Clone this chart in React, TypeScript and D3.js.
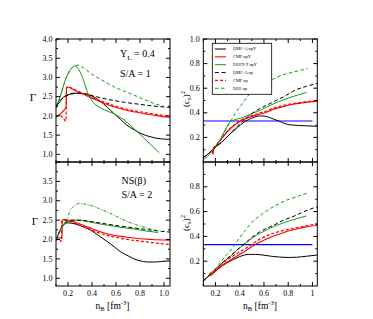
import * as d3 from 'd3';

type Pt = [number, number];

// Gamma, Y_L = 0.4, S/A = 1
const tlQmcNpY: Pt[] = [[0.1,2.22],[0.13,2.36],[0.167,2.5],[0.2,2.55],[0.25,2.59],[0.3,2.59],[0.35,2.57],[0.41,2.5],[0.47,2.38],[0.53,2.22],[0.58,2.07],[0.64,1.9],[0.69,1.76],[0.75,1.64],[0.81,1.54],[0.87,1.47],[0.92,1.43],[0.98,1.4],[1.05,1.39]];
const tlQmcNp: Pt[] = [[0.1,2.25],[0.15,2.45],[0.2,2.54],[0.25,2.58],[0.3,2.59],[0.35,2.57],[0.41,2.52],[0.5,2.45],[0.6,2.39],[0.7,2.34],[0.8,2.3],[0.9,2.26],[1.05,2.22]];
const tlCmfNpY: Pt[] = [[0.1,1.97],[0.13,2.04],[0.167,2.15],[0.185,2.24],[0.188,2.72],[0.2,2.75],[0.25,2.67],[0.3,2.6],[0.36,2.52],[0.43,2.42],[0.5,2.33],[0.58,2.24],[0.67,2.16],[0.76,2.1],[0.85,2.05],[0.95,2.0],[1.05,1.96]];
const tlCmfNp: Pt[] = [[0.1,1.97],[0.13,2.02],[0.155,1.96],[0.183,1.86],[0.187,2.72],[0.2,2.76],[0.25,2.69],[0.3,2.62],[0.36,2.54],[0.43,2.44],[0.5,2.36],[0.58,2.27],[0.67,2.19],[0.76,2.13],[0.85,2.08],[0.95,2.03],[1.05,1.99]];
const tlDd2yNpY: Pt[] = [[0.1,2.2],[0.14,2.55],[0.18,2.95],[0.22,3.2],[0.257,3.3],[0.29,3.2],[0.33,2.92],[0.36,2.63],[0.405,2.37],[0.475,2.2],[0.53,2.12],[0.587,2.05],[0.63,1.97],[0.67,1.89],[0.72,1.75],[0.78,1.58],[0.84,1.4],[0.9,1.22],[0.96,1.04]];
const tlDd2Np: Pt[] = [[0.1,2.2],[0.14,2.55],[0.18,2.95],[0.22,3.2],[0.26,3.3],[0.285,3.32],[0.33,3.24],[0.41,3.06],[0.5,2.9],[0.58,2.76],[0.67,2.64],[0.75,2.54],[0.84,2.42],[0.92,2.32],[1.0,2.25]];

// (c_s)^2, Y_L = 0.4, S/A = 1
const trQmcNpY: Pt[] = [[0.1,0.035],[0.15,0.075],[0.196,0.117],[0.25,0.16],[0.32,0.227],[0.38,0.28],[0.43,0.32],[0.51,0.36],[0.57,0.375],[0.62,0.37],[0.676,0.35],[0.73,0.33],[0.78,0.31],[0.84,0.3],[0.93,0.295],[1.04,0.29]];
const trQmcNp: Pt[] = [[0.1,0.035],[0.15,0.075],[0.196,0.117],[0.25,0.16],[0.32,0.227],[0.38,0.29],[0.43,0.335],[0.47,0.37],[0.54,0.42],[0.62,0.46],[0.7,0.5],[0.78,0.54],[0.86,0.585],[0.95,0.615],[1.04,0.64]];
const trCmfNpY: Pt[] = [[0.18,0.06],[0.185,0.1],[0.21,0.14],[0.25,0.19],[0.3,0.25],[0.35,0.295],[0.4,0.33],[0.48,0.363],[0.55,0.385],[0.62,0.405],[0.68,0.43],[0.76,0.45],[0.84,0.47],[0.93,0.483],[1.04,0.495]];
const trCmfNp: Pt[] = [[0.175,0.07],[0.18,0.11],[0.21,0.14],[0.25,0.19],[0.3,0.25],[0.35,0.298],[0.4,0.335],[0.48,0.37],[0.55,0.395],[0.62,0.415],[0.68,0.44],[0.76,0.46],[0.84,0.475],[0.93,0.488],[1.04,0.5]];
const trDd2yNpY: Pt[] = [[0.1,0.02],[0.15,0.06],[0.196,0.12],[0.25,0.2],[0.29,0.28],[0.32,0.325],[0.35,0.34],[0.43,0.363],[0.5,0.395],[0.57,0.42],[0.65,0.46],[0.72,0.49],[0.8,0.52],[0.88,0.545],[0.95,0.565]];
const trDd2Np: Pt[] = [[0.2,0.12],[0.25,0.2],[0.29,0.27],[0.32,0.32],[0.36,0.39],[0.4,0.445],[0.44,0.5],[0.484,0.555],[0.55,0.6],[0.62,0.64],[0.68,0.675],[0.73,0.7],[0.84,0.73],[0.96,0.76]];

// Gamma, NS(beta), S/A = 2
const blQmcNpY: Pt[] = [[0.1,1.98],[0.13,2.2],[0.16,2.36],[0.2,2.43],[0.25,2.41],[0.3,2.36],[0.35,2.3],[0.41,2.2],[0.47,2.07],[0.53,1.94],[0.59,1.8],[0.64,1.68],[0.7,1.58],[0.75,1.5],[0.8,1.45],[0.86,1.42],[0.92,1.42],[0.97,1.43],[1.05,1.45]];
const blQmcNp: Pt[] = [[0.1,1.98],[0.13,2.22],[0.17,2.42],[0.22,2.5],[0.3,2.5],[0.4,2.46],[0.5,2.41],[0.6,2.36],[0.7,2.32],[0.8,2.28],[0.9,2.24],[1.05,2.19]];
const blCmfNpY: Pt[] = [[0.1,1.98],[0.13,2.05],[0.15,2.02],[0.152,2.5],[0.17,2.52],[0.22,2.48],[0.28,2.42],[0.33,2.36],[0.4,2.28],[0.47,2.2],[0.55,2.13],[0.64,2.08],[0.72,2.05],[0.8,2.02],[0.9,2.0],[1.05,1.98]];
const blCmfNp: Pt[] = [[0.1,1.98],[0.12,2.02],[0.145,1.95],[0.148,2.48],[0.17,2.5],[0.22,2.46],[0.28,2.39],[0.33,2.33],[0.4,2.24],[0.47,2.16],[0.55,2.09],[0.64,2.03],[0.72,1.99],[0.8,1.96],[0.9,1.92],[1.05,1.87]];
const blDd2yNpY: Pt[] = [[0.1,1.98],[0.13,2.2],[0.17,2.4],[0.22,2.49],[0.28,2.5],[0.35,2.47],[0.45,2.41],[0.55,2.36],[0.65,2.31],[0.75,2.27],[0.85,2.22],[0.95,2.18]];
const blDd2Np: Pt[] = [[0.1,1.98],[0.13,2.2],[0.167,2.42],[0.2,2.6],[0.22,2.76],[0.25,2.86],[0.28,2.92],[0.31,2.93],[0.36,2.9],[0.41,2.86],[0.48,2.77],[0.55,2.68],[0.62,2.57],[0.69,2.47],[0.76,2.39],[0.83,2.32],[0.89,2.27],[0.95,2.23]];

// (c_s)^2, NS(beta), S/A = 2
const brQmcNpY: Pt[] = [[0.1,0.04],[0.15,0.085],[0.21,0.128],[0.26,0.165],[0.32,0.2],[0.36,0.22],[0.4,0.237],[0.44,0.25],[0.48,0.255],[0.53,0.255],[0.59,0.25],[0.66,0.24],[0.73,0.233],[0.8,0.23],[0.87,0.232],[0.95,0.24],[1.04,0.25]];
const brQmcNp: Pt[] = [[0.1,0.04],[0.15,0.09],[0.21,0.14],[0.26,0.19],[0.32,0.24],[0.36,0.275],[0.4,0.31],[0.45,0.35],[0.51,0.4],[0.59,0.45],[0.68,0.49],[0.76,0.53],[0.84,0.56],[0.93,0.6],[1.04,0.64]];
const brCmfNpY: Pt[] = [[0.15,0.08],[0.18,0.1],[0.22,0.14],[0.26,0.17],[0.32,0.205],[0.39,0.25],[0.46,0.29],[0.52,0.33],[0.59,0.365],[0.66,0.395],[0.73,0.42],[0.8,0.443],[0.87,0.46],[0.95,0.477],[1.04,0.49]];
const brCmfNp: Pt[] = [[0.15,0.085],[0.18,0.11],[0.22,0.15],[0.26,0.185],[0.32,0.225],[0.39,0.27],[0.46,0.31],[0.52,0.35],[0.59,0.39],[0.66,0.42],[0.73,0.44],[0.8,0.457],[0.87,0.47],[0.95,0.485],[1.04,0.5]];
const brDd2yNpY: Pt[] = [[0.1,0.045],[0.15,0.09],[0.21,0.14],[0.26,0.19],[0.32,0.235],[0.38,0.29],[0.43,0.33],[0.48,0.37],[0.54,0.41],[0.61,0.445],[0.68,0.48],[0.75,0.505],[0.81,0.525],[0.88,0.545],[0.95,0.565]];
const brDd2Np: Pt[] = [[0.15,0.1],[0.21,0.15],[0.25,0.2],[0.29,0.25],[0.32,0.28],[0.35,0.32],[0.4,0.39],[0.44,0.44],[0.48,0.49],[0.53,0.54],[0.59,0.585],[0.66,0.63],[0.73,0.666],[0.78,0.69],[0.84,0.71],[0.96,0.75]];

const conformal = 1 / 3;
const legendLabels = ['QMC-A  npY', 'CMF npY', 'DD2Y-T npY', 'QMC-A  np', 'CMF np', 'DD2 np'];

const BLACK = '#000000';
const RED = '#ff0000';
const GREEN = '#159a15';
const BLUE = '#0000ff';

const styles = [
  { color: BLACK, dash: '', w: 1 },
  { color: RED, dash: '', w: 1.1 },
  { color: GREEN, dash: '', w: 1 },
  { color: BLACK, dash: '4,2.5', w: 1 },
  { color: RED, dash: '3,2', w: 1.2 },
  { color: GREEN, dash: '3.5,2.5', w: 1 },
];

const FONT = 'Liberation Serif, Times New Roman, serif';

const LX0 = 56, LX1 = 170, RX0 = 203.3, RX1 = 317.3;
const TY0 = 39, MY = 162, BY1 = 286;

interface PanelProps {
  x0: number; x1: number; y0: number; y1: number;
  yDomain: [number, number];
  xDomain: [number, number];
  yMajor: number[]; yMinor: number[]; yLabels: number[]; yFmt: (v: number) => string;
  xLabels: boolean; xFmt: (v: number) => string;
  series: Pt[][];
  seriesStyles?: typeof styles;
  hline?: number;
}

function Panel(p: PanelProps) {
  const x = d3.scaleLinear().domain(p.xDomain).range([p.x0, p.x1]);
  const y = d3.scaleLinear().domain(p.yDomain).range([p.y1, p.y0]);
  const line = d3.line<Pt>().x(d => x(d[0])).y(d => y(d[1])).curve(d3.curveMonotoneX);
  const xMajor = [0.2, 0.4, 0.6, 0.8, 1.0];
  const xMinor = [0.1, 0.3, 0.5, 0.7, 0.9];
  const st = p.seriesStyles || styles;
  const clipId = `clip-${p.x0}-${p.y0}`;
  return (
    <g>
      <defs>
        <clipPath id={clipId}>
          <rect x={p.x0} y={p.y0} width={p.x1 - p.x0} height={p.y1 - p.y0} />
        </clipPath>
      </defs>
      <g clipPath={`url(#${clipId})`}>
        {p.hline !== undefined && (
          <line x1={x(0.1)} x2={x(1.0)} y1={y(p.hline)} y2={y(p.hline)} stroke={BLUE} strokeWidth={1.2} />
        )}
        {p.series.map((s, i) => (
          <path key={i} d={line(s) || ''} fill="none" stroke={st[i].color}
            strokeWidth={st[i].w} strokeDasharray={st[i].dash} />
        ))}
      </g>
      <rect x={p.x0} y={p.y0} width={p.x1 - p.x0} height={p.y1 - p.y0} fill="none" stroke="#000" strokeWidth={1} />
      {xMajor.map(v => (
        <g key={'xM' + v}>
          <line x1={x(v)} x2={x(v)} y1={p.y1} y2={p.y1 - 4} stroke="#000" />
          <line x1={x(v)} x2={x(v)} y1={p.y0} y2={p.y0 + 4} stroke="#000" />
          {p.xLabels && (
            <text x={x(v)} y={p.y1 + 10} textAnchor="middle" fontSize={8} fontFamily={FONT}>{p.xFmt(v)}</text>
          )}
        </g>
      ))}
      {xMinor.map(v => (
        <g key={'xm' + v}>
          <line x1={x(v)} x2={x(v)} y1={p.y1} y2={p.y1 - 2} stroke="#000" />
          <line x1={x(v)} x2={x(v)} y1={p.y0} y2={p.y0 + 2} stroke="#000" />
        </g>
      ))}
      {p.yMajor.map(v => (
        <g key={'yM' + v}>
          <line x1={p.x0} x2={p.x0 + 4} y1={y(v)} y2={y(v)} stroke="#000" />
          <line x1={p.x1} x2={p.x1 - 4} y1={y(v)} y2={y(v)} stroke="#000" />
        </g>
      ))}
      {p.yMinor.map(v => (
        <g key={'ym' + v}>
          <line x1={p.x0} x2={p.x0 + 2} y1={y(v)} y2={y(v)} stroke="#000" />
          <line x1={p.x1} x2={p.x1 - 2} y1={y(v)} y2={y(v)} stroke="#000" />
        </g>
      ))}
      {p.yLabels.map(v => (
        <text key={'yl' + v} x={p.x0 - 3.5} y={y(v)} dy="0.33em" textAnchor="end" fontSize={8} fontFamily={FONT}>{p.yFmt(v)}</text>
      ))}
    </g>
  );
}

const gMajor = [1.0, 1.5, 2.0, 2.5, 3.0, 3.5, 4.0];
const gMinor = [1.25, 1.75, 2.25, 2.75, 3.25, 3.75];
const cMajor = [0.2, 0.4, 0.6, 0.8];
const cMinor = [0.1, 0.3, 0.5, 0.7, 0.9];

const blStyles = styles.map((s, i) => (i === 5 ? { ...s, dash: '3,1.5,1,1.5' } : s));

export default function App() {
  const f1 = (v: number) => v.toFixed(1);
  const fR = (v: number) => (v === 1 ? '1' : v.toFixed(1));
  return (
    <svg width={373} height={319} style={{ position: 'absolute', left: 0, top: 0, background: '#fff' }}>
      <Panel x0={LX0} x1={LX1} y0={TY0} y1={MY} xDomain={[0.1, 1.05]} yDomain={[0.8, 4.0]}
        yMajor={gMajor} yMinor={gMinor} yLabels={[1.0, 1.5, 2.0, 2.5, 3.0, 3.5, 4.0]} yFmt={f1}
        xLabels={false} xFmt={f1}
        series={[tlQmcNpY, tlCmfNpY, tlDd2yNpY, tlQmcNp, tlCmfNp, tlDd2Np]} />
      <Panel x0={LX0} x1={LX1} y0={MY} y1={BY1} xDomain={[0.1, 1.05]} yDomain={[0.8, 4.0]}
        yMajor={gMajor} yMinor={gMinor} yLabels={[1.0, 1.5, 2.0, 2.5, 3.0, 3.5]} yFmt={f1}
        xLabels={true} xFmt={f1} seriesStyles={blStyles}
        series={[blQmcNpY, blCmfNpY, blDd2yNpY, blQmcNp, blCmfNp, blDd2Np]} />
      <Panel x0={RX0} x1={RX1} y0={TY0} y1={MY} xDomain={[0.1, 1.04]} yDomain={[0, 1]}
        yMajor={[...cMajor, 1.0]} yMinor={cMinor} yLabels={[0.2, 0.4, 0.6, 0.8, 1.0]} yFmt={f1}
        xLabels={false} xFmt={fR} hline={conformal}
        series={[trQmcNpY, trCmfNpY, trDd2yNpY, trQmcNp, trCmfNp, trDd2Np]} />
      <Panel x0={RX0} x1={RX1} y0={MY} y1={BY1} xDomain={[0.1, 1.04]} yDomain={[0, 1]}
        yMajor={cMajor} yMinor={cMinor} yLabels={cMajor} yFmt={f1}
        xLabels={true} xFmt={fR} hline={conformal}
        series={[brQmcNpY, brCmfNpY, brDd2yNpY, brQmcNp, brCmfNp, brDd2Np]} />

      {/* legend */}
      <rect x={212.3} y={43.3} width={59.4} height={51} fill="#fff" stroke="#000" strokeWidth={0.8} />
      {legendLabels.map((lab, i) => {
        const yy = 49 + i * 7.85;
        return (
          <g key={lab}>
            <line x1={215} x2={226} y1={yy} y2={yy} stroke={styles[i].color} strokeWidth={styles[i].w}
              strokeDasharray={styles[i].dash} />
            <text x={233} y={yy} dy="0.33em" fontSize={4.4} fontFamily={FONT}>{lab}</text>
          </g>
        );
      })}

      {/* annotations */}
      <text x={120} y={57} fontSize={10} fontFamily={FONT}>Y<tspan fontSize={7} dy={2.5}>L</tspan><tspan dy={-2.5}> = 0.4</tspan></text>
      <text x={120} y={76.5} fontSize={10} fontFamily={FONT}>S/A = 1</text>
      <text x={121.5} y={183.5} fontSize={10} fontFamily={FONT}>NS(β)</text>
      <text x={121.5} y={198} fontSize={10} fontFamily={FONT}>S/A = 2</text>

      {/* axis titles */}
      <text x={33} y={101} textAnchor="middle" fontSize={11} fontFamily={FONT}>Γ</text>
      <text x={35} y={225} textAnchor="middle" fontSize={11} fontFamily={FONT}>Γ</text>
      {[99, 223].map(cy => (
        <text key={cy} transform={`translate(189,${cy}) rotate(-90)`} textAnchor="middle" fontSize={9} fontFamily={FONT}>
          (c<tspan fontSize={6.5} dy={2}>s</tspan><tspan dy={-2}>)</tspan><tspan fontSize={6.5} dy={-4}>2</tspan>
        </text>
      ))}
      {[112.5, 260].map(cx => (
        <text key={cx} x={cx} y={309} textAnchor="middle" fontSize={9.5} fontFamily={FONT}>
          n<tspan fontSize={6.5} dy={2}>B</tspan><tspan dy={-2}> [fm</tspan><tspan fontSize={6.5} dy={-4}>-3</tspan><tspan dy={4}>]</tspan>
        </text>
      ))}
    </svg>
  );
}
